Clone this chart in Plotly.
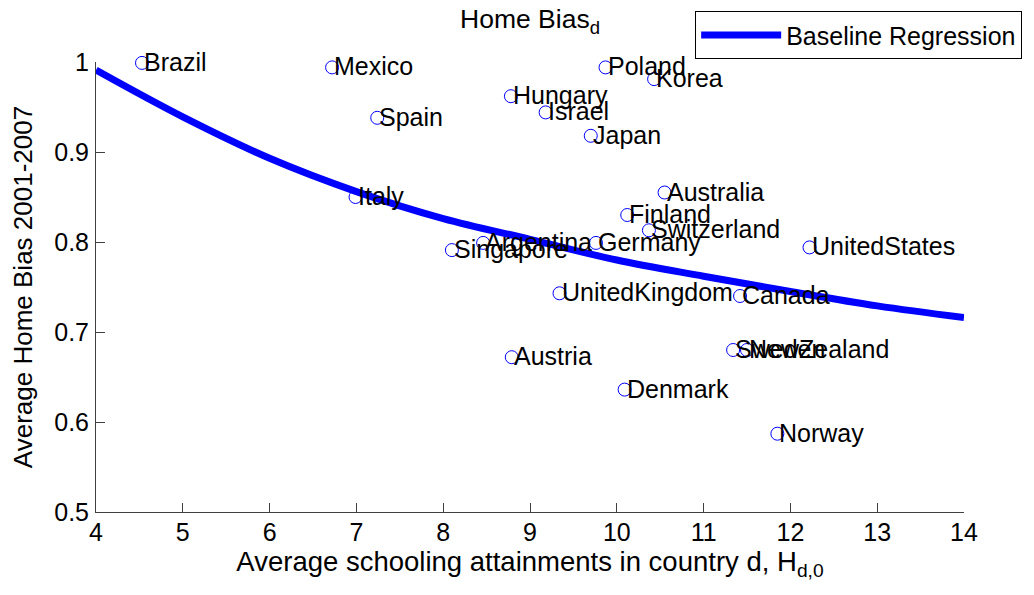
import plotly.graph_objects as go

countries = ["Brazil", "Mexico", "Spain", "Italy", "Hungary", "Israel", "Poland", "Korea",
             "Japan", "Australia", "Finland", "Switzerland", "UnitedStates", "Singapore",
             "Argentina", "Germany", "UnitedKingdom", "Canada", "Austria", "Sweden",
             "NewZealand", "Denmark", "Norway"]
schooling = [4.53, 6.72, 7.24, 6.99, 8.78, 9.18, 9.87, 10.43,
             9.70, 10.55, 10.12, 10.37, 12.22, 8.10,
             8.46, 9.76, 9.34, 11.42, 8.79, 11.34,
             11.50, 10.09, 11.85]
home_bias = [0.999, 0.994, 0.938, 0.850, 0.962, 0.944, 0.994, 0.981,
             0.918, 0.855, 0.830, 0.813, 0.794, 0.791,
             0.799, 0.799, 0.743, 0.740, 0.672, 0.680,
             0.680, 0.636, 0.587]

reg_x = [4, 5, 6, 7, 8, 9, 10, 11, 12, 13, 14]
reg_y = [0.991, 0.939, 0.893, 0.856, 0.826, 0.803, 0.780, 0.762, 0.745, 0.729, 0.716]

x_ticks = [4, 5, 6, 7, 8, 9, 10, 11, 12, 13, 14]
y_ticks = [0.5, 0.6, 0.7, 0.8, 0.9, 1.0]
y_tick_labels = ["0.5", "0.6", "0.7", "0.8", "0.9", "1"]

FONT = "Liberation Sans, Arial, Helvetica, sans-serif"

fig = go.Figure()
fig.add_trace(go.Scatter(
    x=schooling, y=home_bias, mode="markers", showlegend=False,
    marker=dict(symbol="circle-open", size=13, color="#0000ff", line=dict(width=1, color="#0000ff")),
    cliponaxis=False,
))
fig.add_trace(go.Scatter(
    x=reg_x, y=reg_y, mode="lines", name="Baseline Regression",
    line=dict(color="#0000ff", width=7, shape="spline"),
))

for name, xv, yv in zip(countries, schooling, home_bias):
    fig.add_annotation(x=xv, y=yv, text=name, showarrow=False, xanchor="left", yanchor="middle",
                       xshift=0, yshift=1, font=dict(family=FONT, size=25, color="black"))

fig.update_layout(
    width=1034, height=595,
    margin=dict(l=88, r=78, t=54, b=91, autoexpand=False),
    paper_bgcolor="white", plot_bgcolor="white",
    font=dict(family=FONT, size=25, color="black"),
    title=dict(text="Home Bias<sub>d</sub>", x=0.5, xref="paper", xanchor="center",
               yref="container", y=0.997, yanchor="top", font=dict(size=26.5)),
    legend=dict(x=1.067, xanchor="right", y=1.113, yanchor="top", bgcolor="white",
                bordercolor="black", borderwidth=1, font=dict(size=25), itemwidth=80),
    xaxis=dict(range=[4, 14], tickvals=x_ticks, showgrid=False, zeroline=False,
               showline=True, linecolor="#404040", linewidth=1, ticks="inside",
               ticklen=9, tickcolor="#404040", mirror=False, ticklabelstandoff=-2,
               title=dict(text="Average schooling attainments in country d, H<sub>d,0</sub>",
                          standoff=5, font=dict(size=27.5))),
    yaxis=dict(range=[0.5, 1.0], tickvals=y_ticks, ticktext=y_tick_labels, showgrid=False,
               zeroline=False, showline=True, linecolor="#404040", linewidth=1,
               ticks="inside", ticklen=9, tickcolor="#404040", ticklabelstandoff=1,
               title=dict(text="Average Home Bias 2001-2007", standoff=17, font=dict(size=26))),
)

fig.write_html("out.html")
